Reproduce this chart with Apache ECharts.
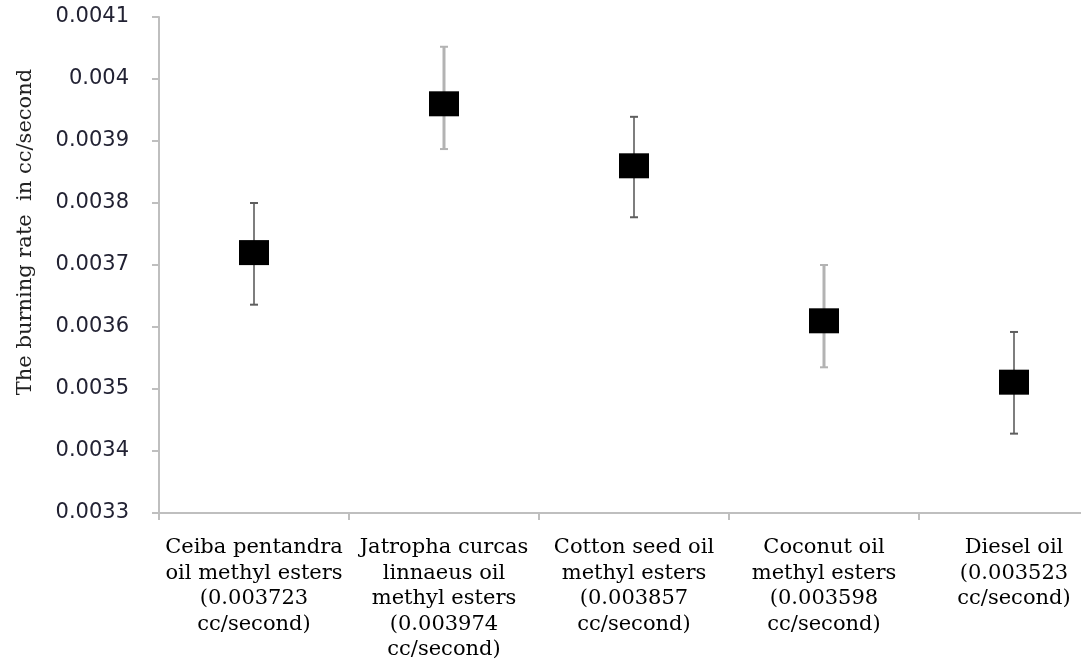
<!DOCTYPE html>
<html>
<head>
<meta charset="utf-8">
<script src="https://cdn.jsdelivr.net/npm/echarts@6/dist/echarts.min.js"></script>
<style>html,body{margin:0;padding:0;background:#fff}#c{width:1081px;height:663px}</style>
</head>
<body>
<div id="c"></div>
<script>
var categories = [
  'Ceiba pentandra\noil methyl esters\n(0.003723\ncc/second)',
  'Jatropha curcas\nlinnaeus oil\nmethyl esters\n(0.003974\ncc/second)',
  'Cotton seed oil\nmethyl esters\n(0.003857\ncc/second)',
  'Coconut oil\nmethyl esters\n(0.003598\ncc/second)',
  'Diesel oil\n(0.003523\ncc/second)'
];
var values  = [0.00372, 0.00396, 0.00386, 0.00361, 0.003511];
var errLow  = [0.003636, 0.003887, 0.003777, 0.003535, 0.003428];
var errHigh = [0.003800, 0.004052, 0.003939, 0.003700, 0.003592];
var errColors = ['#5e5e5e', '#b3b3b3', '#5e5e5e', '#b3b3b3', '#5e5e5e'];
var errWidths = [1.6, 3, 1.6, 3, 1.6];

var chart = echarts.init(document.getElementById('c'), null, {renderer: 'canvas'});
var errData = categories.map(function (c, i) { return [i, errLow[i], errHigh[i]]; });

chart.setOption({
  animation: false,
  backgroundColor: '#fff',
  grid: {left: 159, top: 17, right: -28, bottom: 150, outerBoundsMode: 'none', containLabel: false},
  xAxis: {
    type: 'category',
    data: categories,
    boundaryGap: true,
    axisLine: {lineStyle: {color: '#bfbfbf', width: 2}},
    axisTick: {show: true, length: 7, lineStyle: {color: '#bfbfbf', width: 2}},
    axisLabel: {
      interval: 0, margin: 22, color: '#000',
      fontFamily: 'DejaVu Serif', fontSize: 21, lineHeight: 25.5, align: 'center'
    },
    splitLine: {show: false}
  },
  yAxis: {
    type: 'value',
    min: 0.0033, max: 0.0041, interval: 0.0001,
    axisLine: {show: true, lineStyle: {color: '#bfbfbf', width: 2}},
    axisTick: {show: true, length: 7, lineStyle: {color: '#bfbfbf', width: 2}},
    axisLabel: {
      margin: 30, color: '#222233', fontFamily: 'DejaVu Sans', fontSize: 21,
      formatter: function (v) { return String(+v.toFixed(4)); }
    },
    splitLine: {show: false}
  },
  graphic: [{
    type: 'text',
    x: 26, y: 232,
    rotation: Math.PI / 2,
    style: {
      text: 'The burning rate  in cc/second',
      fontFamily: 'DejaVu Serif', fontSize: 21, fill: '#222',
      align: 'center', verticalAlign: 'middle'
    }
  }],
  series: [
    {
      type: 'custom',
      z: 1,
      data: errData,
      renderItem: function (params, api) {
        var i = api.value(0);
        var lo = api.coord([i, api.value(1)]);
        var hi = api.coord([i, api.value(2)]);
        var col = errColors[params.dataIndex];
        var w = errWidths[params.dataIndex];
        var cap = 4;
        var st = {stroke: col, lineWidth: w};
        return {
          type: 'group',
          children: [
            {type: 'line', shape: {x1: hi[0], y1: hi[1], x2: lo[0], y2: lo[1]}, style: st},
            {type: 'line', shape: {x1: hi[0] - cap, y1: hi[1], x2: hi[0] + cap, y2: hi[1]}, style: {stroke: col, lineWidth: 2}},
            {type: 'line', shape: {x1: lo[0] - cap, y1: lo[1], x2: lo[0] + cap, y2: lo[1]}, style: {stroke: col, lineWidth: 2}}
          ]
        };
      }
    },
    {
      type: 'scatter',
      z: 3,
      data: values,
      symbol: 'rect',
      symbolSize: [30, 25],
      itemStyle: {color: '#000', opacity: 1}
    }
  ]
});
</script>
</body>
</html>
